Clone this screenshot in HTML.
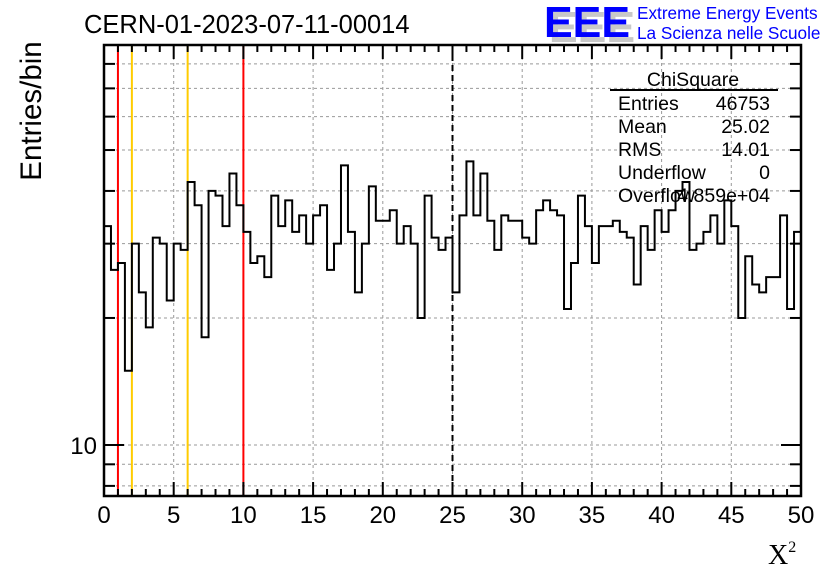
<!DOCTYPE html>
<html><head><meta charset="utf-8"><style>
body{margin:0;background:#fff;}
svg{display:block;font-family:"Liberation Sans",sans-serif;}
</style></head><body>
<svg id="c" width="836" height="572" viewBox="0 0 836 572">
<rect x="0" y="0" width="836" height="572" fill="#fff"/>
<g id="grid"></g>
<g id="vlines"></g>
<path id="hist" fill="none" stroke="#000" stroke-width="2"/>
<g id="axes"></g>
<text x="84" y="33" font-size="25.5">CERN-01-2023-07-11-00014</text>
<text transform="translate(41,111) rotate(-90)" text-anchor="middle" font-size="29.5">Entries/bin</text>
<text x="768" y="564" font-size="28" font-family="Liberation Serif,serif">X<tspan font-size="16" dy="-12">2</tspan></text>
<g>
<text x="549" y="42" font-size="44" font-weight="bold" fill="#c8c8c8" textLength="86" lengthAdjust="spacingAndGlyphs">EEE</text>
<text x="544" y="37" font-size="44" font-weight="bold" fill="#0000ff" textLength="86" lengthAdjust="spacingAndGlyphs">EEE</text>
<text x="637" y="19" font-size="17.2" fill="#0000ff">Extreme Energy Events</text>
<text x="637" y="39" font-size="17.2" fill="#0000ff">La Scienza nelle Scuole</text>
</g>
<g font-size="19.5">
<text x="693" y="86" text-anchor="middle">ChiSquare</text>
<line x1="610" y1="90" x2="778" y2="90" stroke="#000" stroke-width="2"/>
<text x="618" y="110">Entries</text><text x="770" y="110" text-anchor="end">46753</text>
<text x="618" y="133">Mean</text><text x="770" y="133" text-anchor="end">25.02</text>
<text x="618" y="156">RMS</text><text x="770" y="156" text-anchor="end">14.01</text>
<text x="618" y="179">Underflow</text><text x="770" y="179" text-anchor="end">0</text>
<text x="618" y="202">Overflow</text><text x="770" y="202" text-anchor="end">4.859e+04</text>
</g>
</svg>
<script>
const xTicks=[0,5,10,15,20,25,30,35,40,45,50];
const yGridValues=[8,9,10,20,30,40,50,60,70,80];
const binCounts=[33,26,27,15,30,23,19,31,30,22,30,29,42,37,18,40,39,33,44,37,
32,27,28,25,39,33,38,32,35,30,35,37,26,30,46,32,23,30,41,34,
34,36,30,33,30,20,39,31,29,31,23,35,47,35,44,34,29,35,34,34,
31,30,36,38,36,35,21,27,39,33,27,33,33,34,32,31,24,33,29,36,
32,36,40,42,29,30,32,35,30,38,33,20,28,24,23,25,25,35,21,32];
const redLines=[1,10];
const orangeLines=[2,6];
const dashedLines=[25];
const X0=104,X1=801,Y0=45,Y1=496;
const xMin=0,xMax=50;
const sx=v=>X0+(v-xMin)/(xMax-xMin)*(X1-X0);
const sy=v=>445-(Math.log10(v)-1)*422;
const NS="http://www.w3.org/2000/svg";
function mk(p,t,a){const e=document.createElementNS(NS,t);for(const k in a)e.setAttribute(k,a[k]);p.appendChild(e);return e;}
const grid=document.getElementById('grid'),axes=document.getElementById('axes'),vl=document.getElementById('vlines');
xTicks.forEach(t=>{if(t>xMin&&t<xMax){const g=mk(grid,'line',{x1:sx(t),x2:sx(t),y1:Y0,y2:Y1,stroke:'#999','stroke-width':1,'stroke-dasharray':'3,3'});

}});
yGridValues.forEach(v=>{const y=sy(v);if(y>Y0&&y<Y1){const g=mk(grid,'line',{x1:X0,x2:X1,y1:y,y2:y,stroke:'#999','stroke-width':1,'stroke-dasharray':'3,3'});


const tk=mk(axes,'line',{x1:X0,x2:X0+(v===10?20:11),y1:y,y2:y,stroke:'#000','stroke-width':2});


const tk2=mk(axes,'line',{x1:X1,x2:X1-(v===10?20:11),y1:y,y2:y,stroke:'#000','stroke-width':2});

}});
const yl=mk(axes,'text',{x:X0-7,y:sy(10)+9,'text-anchor':'end','font-size':24});yl.textContent='10';


function vline(v,col,dash,name){const l=mk(vl,'line',{x1:sx(v),x2:sx(v),y1:Y0,y2:Y1,stroke:col,'stroke-width':2});if(dash)l.setAttribute('stroke-dasharray',dash);

}
redLines.forEach(v=>vline(v,'#ff0000',null,'red-cut-line'));
orangeLines.forEach(v=>vline(v,'#ffcc00',null,'orange-cut-line'));
dashedLines.forEach(v=>vline(v,'#000',"6,4",'dashed-mean-line'));
const bw=(xMax-xMin)/binCounts.length;
let d='M'+sx(0)+','+sy(binCounts[0]);
binCounts.forEach((c,i)=>{const y=sy(c);d+=' L'+sx(i*bw)+','+y+' L'+sx((i+1)*bw)+','+y;});
document.getElementById('hist').setAttribute('d',d);
mk(axes,'rect',{x:X0,y:Y0,width:X1-X0,height:Y1-Y0,fill:'none',stroke:'#000','stroke-width':2.5});
for(let v=xMin;v<=xMax+1e-9;v+=1){const maj=v%5===0;const x=sx(v);
const t=mk(axes,'line',{x1:x,x2:x,y1:Y1,y2:Y1-(maj?14:7),stroke:'#000','stroke-width':2});


const t2=mk(axes,'line',{x1:x,x2:x,y1:Y0,y2:Y0+(maj?14:7),stroke:'#000','stroke-width':2});

}
xTicks.forEach(t=>{const l=mk(axes,'text',{x:sx(t),y:523,'text-anchor':'middle','font-size':24});l.textContent=String(t);

});
</script>
</body></html>
